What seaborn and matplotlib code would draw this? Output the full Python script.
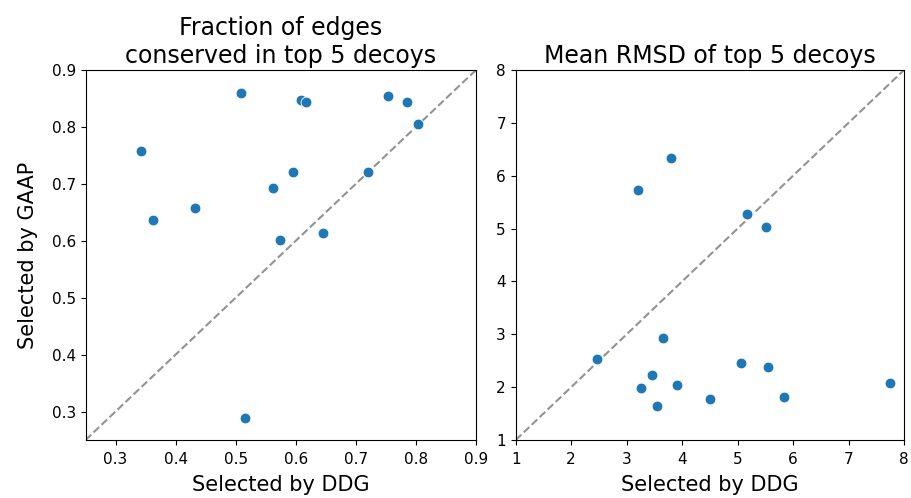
import matplotlib
matplotlib.use("Agg")
import matplotlib.pyplot as plt
import seaborn as sns
import pandas as pd

# Fraction of contact-map edges conserved in the top 5 decoys
edges_ddg = [0.342, 0.362, 0.432, 0.509, 0.515, 0.562, 0.574, 0.595, 0.608,
             0.617, 0.646, 0.721, 0.754, 0.785, 0.804]
edges_gaap = [0.758, 0.636, 0.658, 0.859, 0.288, 0.692, 0.602, 0.720, 0.848,
              0.844, 0.613, 0.720, 0.854, 0.843, 0.805]

# Mean RMSD of the top 5 decoys
rmsd_ddg = [2.46, 3.20, 3.25, 3.45, 3.54, 3.66, 3.80, 3.91, 4.50, 5.07,
            5.17, 5.52, 5.55, 5.83, 7.74]
rmsd_gaap = [2.54, 5.73, 1.98, 2.23, 1.65, 2.93, 6.34, 2.05, 1.77, 2.45,
             5.28, 5.03, 2.39, 1.81, 2.08]

titles = ["Fraction of edges\nconserved in top 5 decoys",
          "Mean RMSD of top 5 decoys"]
xlabel = "Selected by DDG"
ylabel = "Selected by GAAP"
edge_ticks = [0.3, 0.4, 0.5, 0.6, 0.7, 0.8, 0.9]
rmsd_ticks = [1, 2, 3, 4, 5, 6, 7, 8]

edges_df = pd.DataFrame({"ddg": edges_ddg, "gaap": edges_gaap})
rmsd_df = pd.DataFrame({"ddg": rmsd_ddg, "gaap": rmsd_gaap})

fig = plt.figure(figsize=(9.11, 4.98), dpi=100)
ax1 = fig.add_axes([85.5 / 911, 58 / 498, 390.5 / 911, 370 / 498])
ax2 = fig.add_axes([515.7 / 911, 58 / 498, 388.3 / 911, 370 / 498])

panels = [
    (ax1, edges_df, (0.25, 0.9), edge_ticks, titles[0]),
    (ax2, rmsd_df, (1, 8), rmsd_ticks, titles[1]),
]
for ax, df, lims, ticks, title in panels:
    ax.axline((0, 0), slope=1, color="gray", alpha=0.85, linestyle="--",
              linewidth=1.5, zorder=1)
    sns.scatterplot(data=df, x="ddg", y="gaap", ax=ax, color="#1f77b4",
                    s=60, edgecolor="white", linewidth=0.6, zorder=3)
    ax.set_xlim(*lims)
    ax.set_ylim(*lims)
    ax.set_xticks(ticks)
    ax.set_yticks(ticks)
    ax.set_xticklabels([f"{t:g}" for t in ticks])
    ax.set_yticklabels([f"{t:g}" for t in ticks])
    ax.tick_params(axis="both", labelsize=11)
    ax.tick_params(axis="x", pad=5)
    ax.set_title(title, fontsize=17, pad=5)
    ax.set_xlabel(xlabel, fontsize=15, labelpad=6)
    ax.set_ylabel("")

ax1.set_ylabel(ylabel, fontsize=15, labelpad=10)

fig.savefig("out.png", dpi=100)
